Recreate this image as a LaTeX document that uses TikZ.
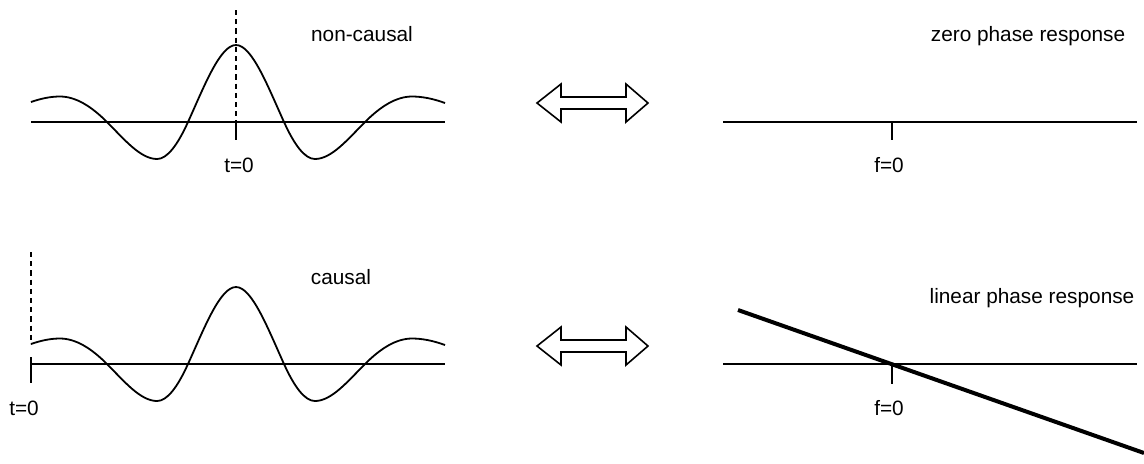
\documentclass[tikz,border=0pt]{standalone}
\usepackage{fontspec}
\setmainfont{Liberation Sans}
\begin{document}
\begin{tikzpicture}[x=0.5pt,y=-0.5pt,
  thinline/.style={line width=0.9pt},
  thickline/.style={line width=2pt},
  lbl/.style={font=\fontsize{10.4}{12}\selectfont, inner sep=0pt, anchor=base},
  dashln/.style={line width=0.9pt, dash pattern=on 2.6pt off 2pt},
  dblarrow/.style={line width=0.8pt, line join=miter, fill=white}]
\useasboundingbox (0,0) rectangle (1144,463);

% ---------- left panels: waveforms ----------
\foreach \dy in {0,242}{
  \begin{scope}[shift={(0,\dy)}]
    \draw[thinline]
      (31,102) .. controls (40.7,98.6) and (50.3,96.5) .. (60,96.5)
      .. controls (75.7,96.5) and (91.3,106.3) .. (107,122)
      .. controls (123.7,138.7) and (140.3,159) .. (157,159)
      .. controls (167.3,159) and (177.7,144.7) .. (188,122)
      .. controls (204,86.8) and (220,45) .. (236,45)
      .. controls (252,45) and (268,86.8) .. (284,122)
      .. controls (294.3,144.7) and (304.7,159) .. (315,159)
      .. controls (331.7,159) and (348.3,138.7) .. (365,122)
      .. controls (380.7,106.3) and (396.3,96.5) .. (412,96.5)
      .. controls (422,96.5) and (433,98.6) .. (445,103);
  \end{scope}
}

% top-left axis
\coordinate (tlA) at (31,122);
\coordinate (tlB) at (445,122);
\coordinate (tlT0) at (236,122);
\coordinate (tlT1) at (236,140);
\coordinate (tlD) at (236,10);
\draw[thinline] (tlA) -- (tlB);
\draw[thinline] (tlT0) -- (tlT1);
\draw[dashln] (tlD) -- (tlT0);
\node[lbl] (nc) at (362,41) {non-causal};
\node[lbl] (t0a) at (239,172) {t=0};

% bottom-left axis
\coordinate (blA) at (31,364);
\coordinate (blB) at (445,364);
\coordinate (blT0) at (31,357);
\coordinate (blT1) at (31,383);
\coordinate (blD0) at (31,252);
\coordinate (blD1) at (31,344);
\draw[thinline] (blA) -- (blB);
\draw[thinline] (blT0) -- (blT1);
\draw[dashln] (blD0) -- (blD1);
\node[lbl] (ca) at (341,284) {causal};
\node[lbl] (t0b) at (24,415) {t=0};

% ---------- double arrows ----------
\foreach \cy in {103,346}{
  \draw[dblarrow] (537,\cy) -- (561,\cy-19) -- (561,\cy-6) -- (626,\cy-6)
    -- (626,\cy-19) -- (648,\cy) -- (626,\cy+19) -- (626,\cy+6)
    -- (561,\cy+6) -- (561,\cy+19) -- cycle;
}

% ---------- right panels ----------
\coordinate (trA) at (723,122);
\coordinate (trB) at (1137,122);
\coordinate (trT0) at (892,122);
\coordinate (trT1) at (892,140);
\draw[thinline] (trA) -- (trB);
\draw[thinline] (trT0) -- (trT1);
\node[lbl] (zp) at (1028,41) {zero phase response};
\node[lbl] (f0a) at (889,172) {f=0};

\coordinate (brA) at (723,364);
\coordinate (brB) at (1137,364);
\coordinate (brT0) at (892,364);
\coordinate (brT1) at (892,384);
\coordinate (lp0) at (738,310);
\coordinate (lp1) at (1144,453);
\draw[thinline] (brA) -- (brB);
\draw[thinline] (brT0) -- (brT1);
\draw[thickline] (lp0) -- (lp1);
\node[lbl] (lp) at (1032,303) {linear phase response};
\node[lbl] (f0b) at (889,415) {f=0};
\end{tikzpicture}
\end{document}
